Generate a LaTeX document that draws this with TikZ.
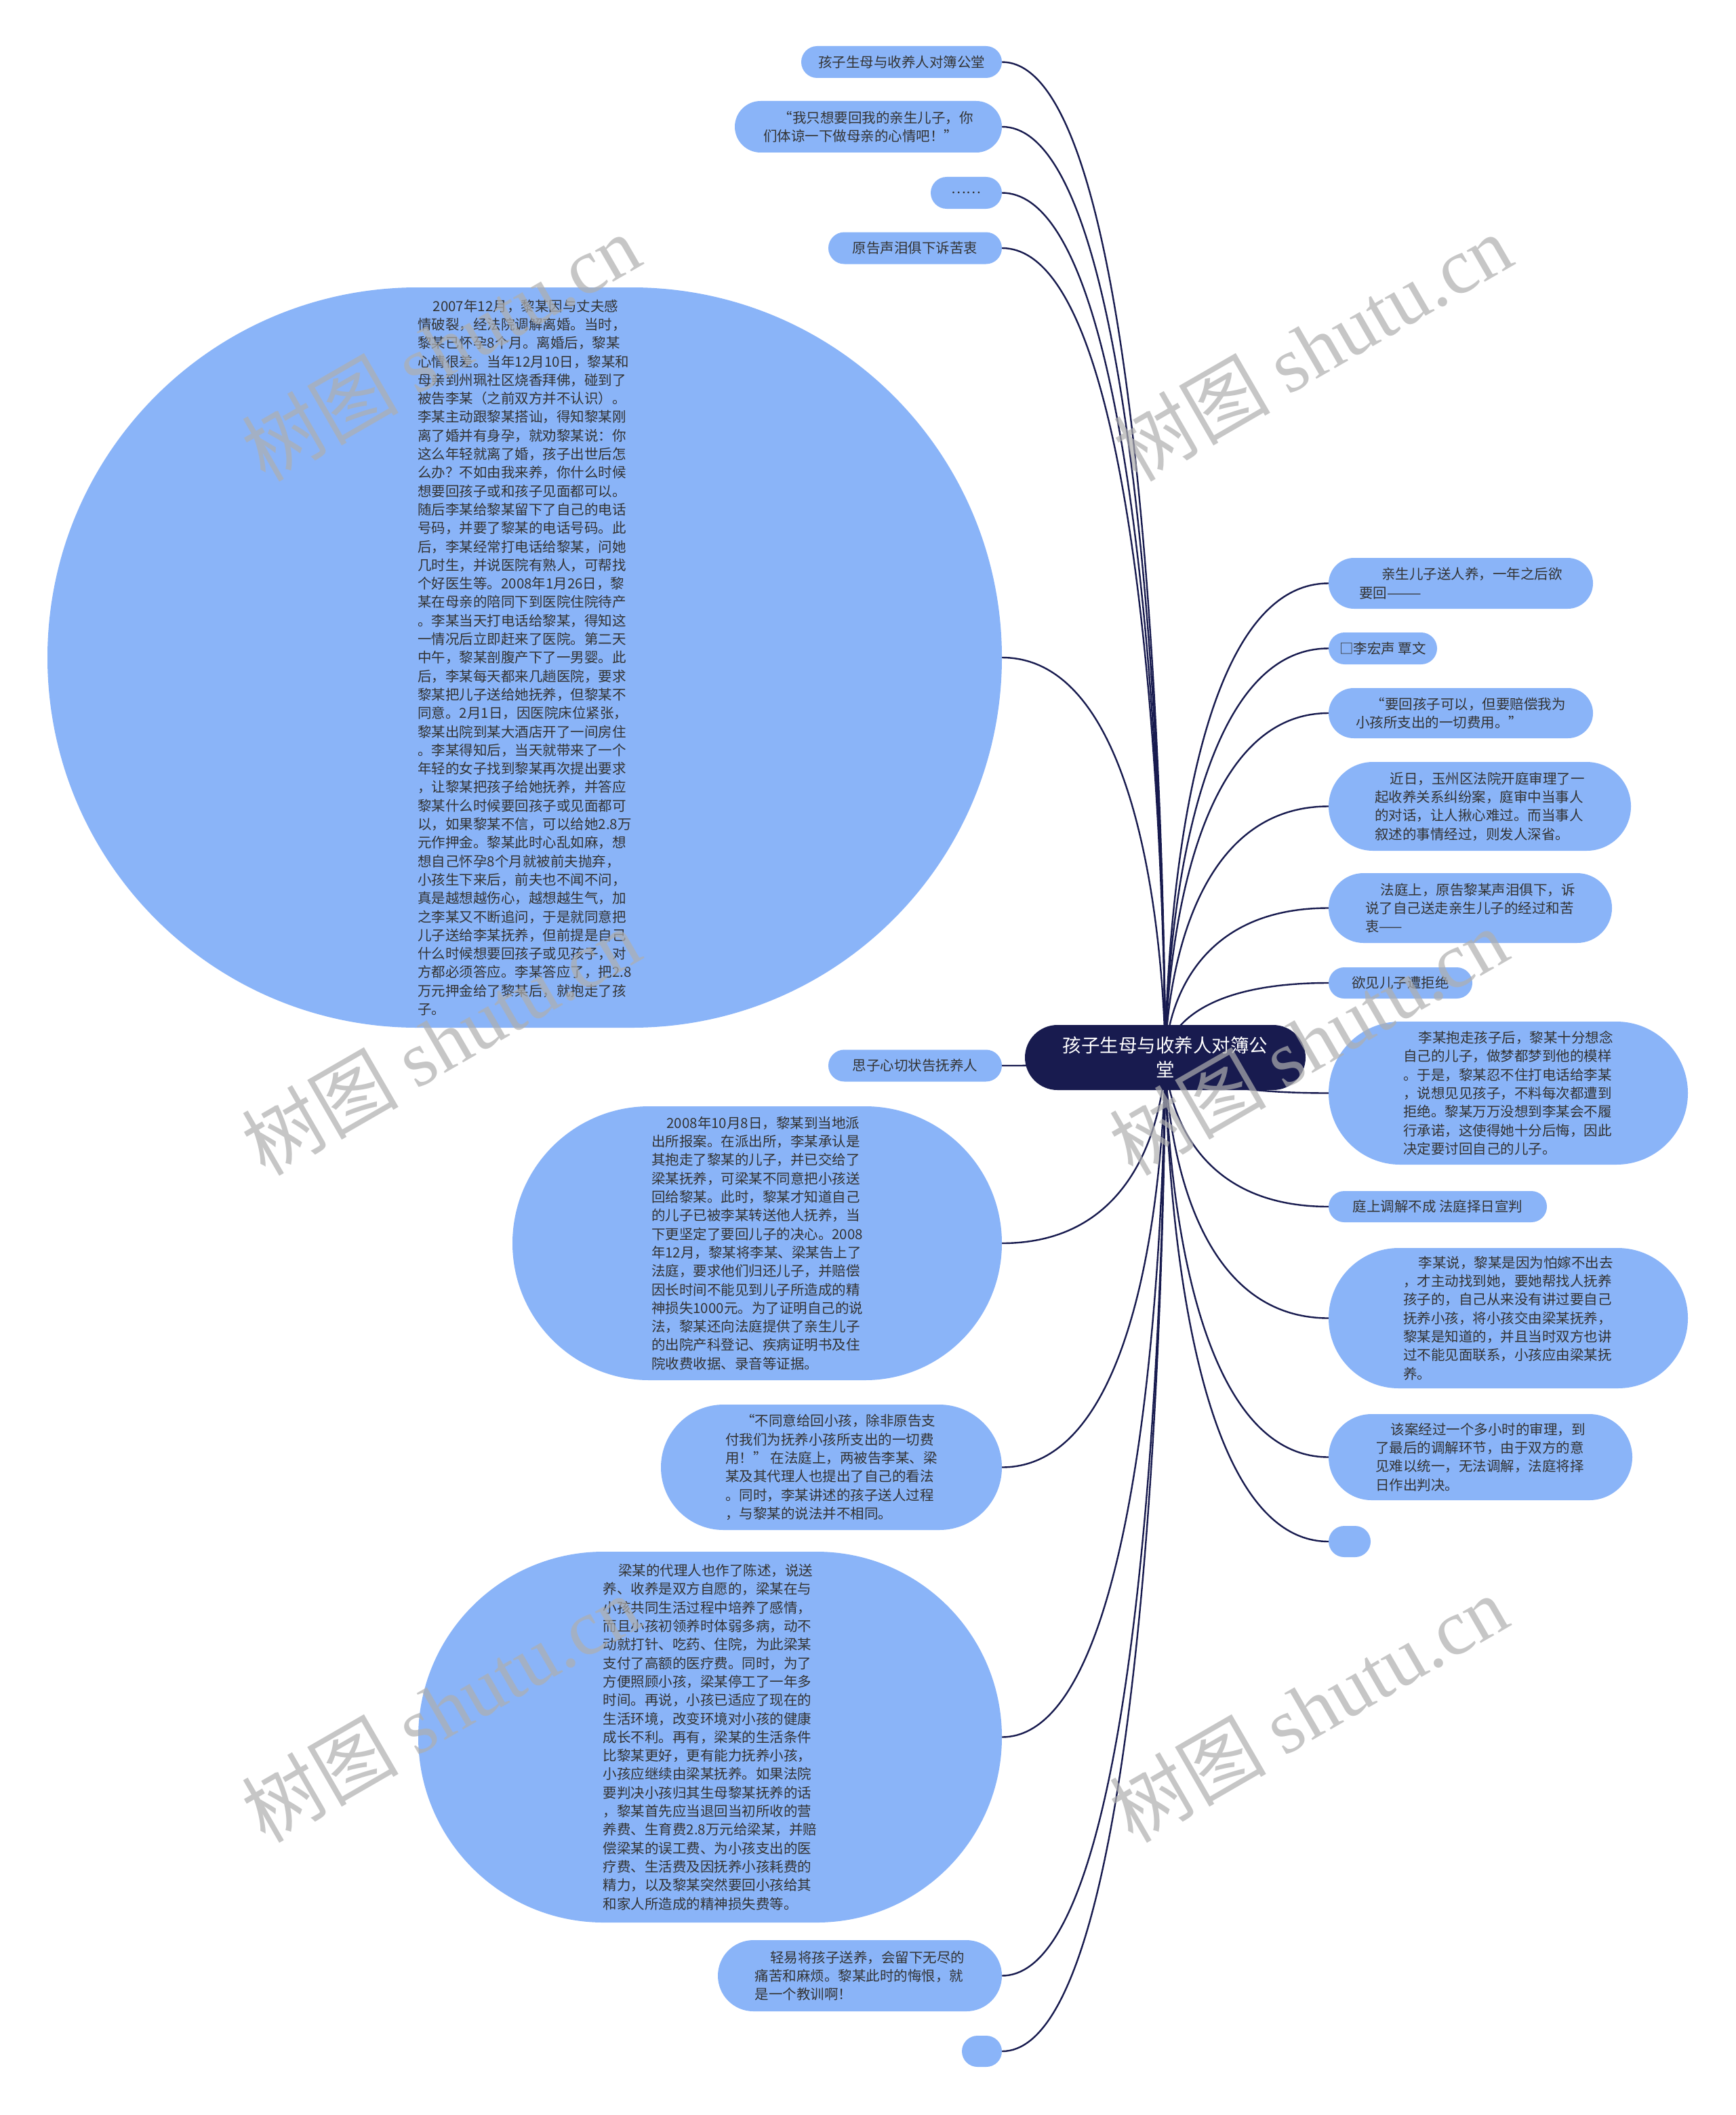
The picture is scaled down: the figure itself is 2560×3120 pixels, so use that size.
\documentclass[tikz,border=0pt]{standalone}
\usepackage{fontspec}
\setmainfont{Noto Sans CJK SC}
\newfontfamily\wmserif{Liberation Serif}
\pgfdeclarelayer{back}
\pgfdeclarelayer{bg}
\pgfsetlayers{back,bg,main}
\definecolor{nodeblue}{RGB}{138,180,248}
\definecolor{navy}{RGB}{24,27,79}
\definecolor{txt}{RGB}{51,51,51}
\definecolor{wmgray}{RGB}{175,175,175}
\newcommand{\ind}{\hspace*{1.1em}}
\begin{document}
\begin{tikzpicture}[x=1pt,y=-1pt,
  bx/.style={fill=nodeblue, text=txt, inner sep=0pt, align=left,
    font=\fontsize{20.5pt}{27.3pt}\selectfont},
  conn/.style={draw=navy, line width=2.4pt},
  wm/.style={text=wmgray, text opacity=0.7, rotate=30, inner sep=0pt,
    font=\fontsize{116pt}{120pt}\selectfont}
]
\begin{pgfonlayer}{back}
\fill[white] (0,0) rectangle (2560,3120);
\end{pgfonlayer}
\useasboundingbox (0,0) rectangle (2560,3120);

% centre
\node[fill=navy, text=white, inner sep=0pt, minimum width=414pt, minimum height=96pt,
  rounded corners=48pt, align=center, font=\fontsize{27.5pt}{36pt}\selectfont]
  (c) at (1719,1560) {孩子生母与收养人对簿公\\堂};

% left side
\node[bx, minimum width=296pt, minimum height=47pt, rounded corners=23.5pt] (l1) at (1330,91.5) {孩子生母与收养人对簿公堂};
\node[bx, minimum width=394pt, minimum height=76pt, rounded corners=38pt] (l2) at (1281,187) {\ind“我只想要回我的亲生儿子，你\\们体谅一下做母亲的心情吧！”};
\node[bx, minimum width=105pt, minimum height=47pt, rounded corners=23.5pt] (l3) at (1425.5,284.5) {……};
\node[bx, minimum width=256pt, minimum height=47pt, rounded corners=23.5pt] (l4) at (1350,366) {原告声泪俱下诉苦衷};
\node[bx, minimum width=1408pt, minimum height=1092pt, rounded corners=546pt] (e) at (774,970) {\ind 2007年12月，黎某因与丈夫感\\
情破裂，经法院调解离婚。当时，\\
黎某已怀孕8个月。离婚后，黎某\\
心情很差。当年12月10日，黎某和\\
母亲到州珮社区烧香拜佛，碰到了\\
被告李某（之前双方并不认识）。\\
李某主动跟黎某搭讪，得知黎某刚\\
离了婚并有身孕，就劝黎某说：你\\
这么年轻就离了婚，孩子出世后怎\\
么办？不如由我来养，你什么时候\\
想要回孩子或和孩子见面都可以。\\
随后李某给黎某留下了自己的电话\\
号码，并要了黎某的电话号码。此\\
后，李某经常打电话给黎某，问她\\
几时生，并说医院有熟人，可帮找\\
个好医生等。2008年1月26日，黎\\
某在母亲的陪同下到医院住院待产\\
。李某当天打电话给黎某，得知这\\
一情况后立即赶来了医院。第二天\\
中午，黎某剖腹产下了一男婴。此\\
后，李某每天都来几趟医院，要求\\
黎某把儿子送给她抚养，但黎某不\\
同意。2月1日，因医院床位紧张，\\
黎某出院到某大酒店开了一间房住\\
。李某得知后，当天就带来了一个\\
年轻的女子找到黎某再次提出要求\\
，让黎某把孩子给她抚养，并答应\\
黎某什么时候要回孩子或见面都可\\
以，如果黎某不信，可以给她2.8万\\
元作押金。黎某此时心乱如麻，想\\
想自己怀孕8个月就被前夫抛弃，\\
小孩生下来后，前夫也不闻不问，\\
真是越想越伤心，越想越生气，加\\
之李某又不断追问，于是就同意把\\
儿子送给李某抚养，但前提是自己\\
什么时候想要回孩子或见孩子，对\\
方都必须答应。李某答应了，把2.8\\
万元押金给了黎某后，就抱走了孩\\
子。};
\node[bx, minimum width=256pt, minimum height=47pt, rounded corners=23.5pt] (l5) at (1350,1572) {思子心切状告抚养人};
\node[bx, minimum width=722pt, minimum height=404pt, rounded corners=202pt] (l6) at (1117,1834) {\ind 2008年10月8日，黎某到当地派\\
出所报案。在派出所，李某承认是\\
其抱走了黎某的儿子，并已交给了\\
梁某抚养，可梁某不同意把小孩送\\
回给黎某。此时，黎某才知道自己\\
的儿子已被李某转送他人抚养，当\\
下更坚定了要回儿子的决心。2008\\
年12月，黎某将李某、梁某告上了\\
法庭，要求他们归还儿子，并赔偿\\
因长时间不能见到儿子所造成的精\\
神损失1000元。为了证明自己的说\\
法，黎某还向法庭提供了亲生儿子\\
的出院产科登记、疾病证明书及住\\
院收费收据、录音等证据。};
\node[bx, minimum width=503pt, minimum height=185pt, rounded corners=92.5pt] (l7) at (1226.5,2164.5) {\ind“不同意给回小孩，除非原告支\\
付我们为抚养小孩所支出的一切费\\
用！” 在法庭上，两被告李某、梁\\
某及其代理人也提出了自己的看法\\
。同时，李某讲述的孩子送人过程\\
，与黎某的说法并不相同。};
\node[bx, minimum width=861pt, minimum height=547pt, rounded corners=273.5pt] (l8) at (1047.5,2562.5) {\ind 梁某的代理人也作了陈述，说送\\
养、收养是双方自愿的，梁某在与\\
小孩共同生活过程中培养了感情，\\
而且小孩初领养时体弱多病，动不\\
动就打针、吃药、住院，为此梁某\\
支付了高额的医疗费。同时，为了\\
方便照顾小孩，梁某停工了一年多\\
时间。再说，小孩已适应了现在的\\
生活环境，改变环境对小孩的健康\\
成长不利。再有，梁某的生活条件\\
比黎某更好，更有能力抚养小孩，\\
小孩应继续由梁某抚养。如果法院\\
要判决小孩归其生母黎某抚养的话\\
，黎某首先应当退回当初所收的营\\
养费、生育费2.8万元给梁某，并赔\\
偿梁某的误工费、为小孩支出的医\\
疗费、生活费及因抚养小孩耗费的\\
精力，以及黎某突然要回小孩给其\\
和家人所造成的精神损失费等。};
\node[bx, minimum width=419pt, minimum height=105pt, rounded corners=52.5pt] (l9) at (1268.5,2914.5) {\ind 轻易将孩子送养，会留下无尽的\\
痛苦和麻烦。黎某此时的悔恨，就\\
是一个教训啊！};
\node[bx, minimum width=59pt, minimum height=46pt, rounded corners=23pt] (l10) at (1448.5,3026) {};

% right side
\node[bx, minimum width=390pt, minimum height=75pt, rounded corners=37.5pt] (r1) at (2155,860.5) {\hspace*{1.6em}亲生儿子送人养，一年之后欲\\要回———};
\node[bx, minimum width=160pt, minimum height=47pt, rounded corners=23.5pt] (r2) at (2040,956.5) {□李宏声 覃文};
\node[bx, minimum width=390pt, minimum height=74pt, rounded corners=37pt] (r3) at (2155,1052) {\ind“要回孩子可以，但要赔偿我为\\小孩所支出的一切费用。”};
\node[bx, minimum width=446pt, minimum height=131pt, rounded corners=65.5pt] (r4) at (2183,1189.5) {\ind 近日，玉州区法院开庭审理了一\\
起收养关系纠纷案，庭审中当事人\\
的对话，让人揪心难过。而当事人\\
叙述的事情经过，则发人深省。};
\node[bx, minimum width=418pt, minimum height=103pt, rounded corners=51.5pt] (r5) at (2169,1339.5) {\ind 法庭上，原告黎某声泪俱下，诉\\
说了自己送走亲生儿子的经过和苦\\
衷——};
\node[bx, minimum width=212pt, minimum height=46pt, rounded corners=23pt] (r6) at (2066,1450) {欲见儿子遭拒绝};
\node[bx, minimum width=530pt, minimum height=211pt, rounded corners=105.5pt] (r7) at (2225,1612.5) {\ind 李某抱走孩子后，黎某十分想念\\
自己的儿子，做梦都梦到他的模样\\
。于是，黎某忍不住打电话给李某\\
，说想见见孩子，不料每次都遭到\\
拒绝。黎某万万没想到李某会不履\\
行承诺，这使得她十分后悔，因此\\
决定要讨回自己的儿子。};
\node[bx, minimum width=322pt, minimum height=46pt, rounded corners=23pt] (r8) at (2121,1780) {庭上调解不成 法庭择日宣判};
\node[bx, minimum width=530pt, minimum height=207pt, rounded corners=103.5pt] (r9) at (2225,1944.5) {\ind 李某说，黎某是因为怕嫁不出去\\
，才主动找到她，要她帮找人抚养\\
孩子的，自己从来没有讲过要自己\\
抚养小孩，将小孩交由梁某抚养，\\
黎某是知道的，并且当时双方也讲\\
过不能见面联系，小孩应由梁某抚\\
养。};
\node[bx, minimum width=448pt, minimum height=127pt, rounded corners=63.5pt] (r10) at (2184,2149.5) {\ind 该案经过一个多小时的审理，到\\
了最后的调解环节，由于双方的意\\
见难以统一，无法调解，法庭将择\\
日作出判决。};
\node[bx, minimum width=62pt, minimum height=46pt, rounded corners=23pt] (r11) at (1991,2274) {};

% connectors
\begin{pgfonlayer}{bg}
\foreach \n in {l1,l2,l3,l4,e,l5,l6,l7,l8,l9,l10}
  \draw[conn] (\n.east) .. controls (c.center |- \n.east) and (c.center) .. (c.center);
\foreach \n in {r1,r2,r3,r4,r5,r6,r7,r8,r9,r10,r11}
  \draw[conn] (\n.west) .. controls (c.center |- \n.west) and (c.center) .. (c.center);
\end{pgfonlayer}

% watermarks
\node[wm] (w1) at (650,512) {树图 {\wmserif shutu.cn}};
\node[wm] (w2) at (1936,512) {树图 {\wmserif shutu.cn}};
\node[wm] (w3) at (650,1536) {树图 {\wmserif shutu.cn}};
\node[wm] (w4) at (1930,1536) {树图 {\wmserif shutu.cn}};
\node[wm] (w5) at (650,2520) {树图 {\wmserif shutu.cn}};
\node[wm] (w6) at (1930,2520) {树图 {\wmserif shutu.cn}};
\end{tikzpicture}
\end{document}
